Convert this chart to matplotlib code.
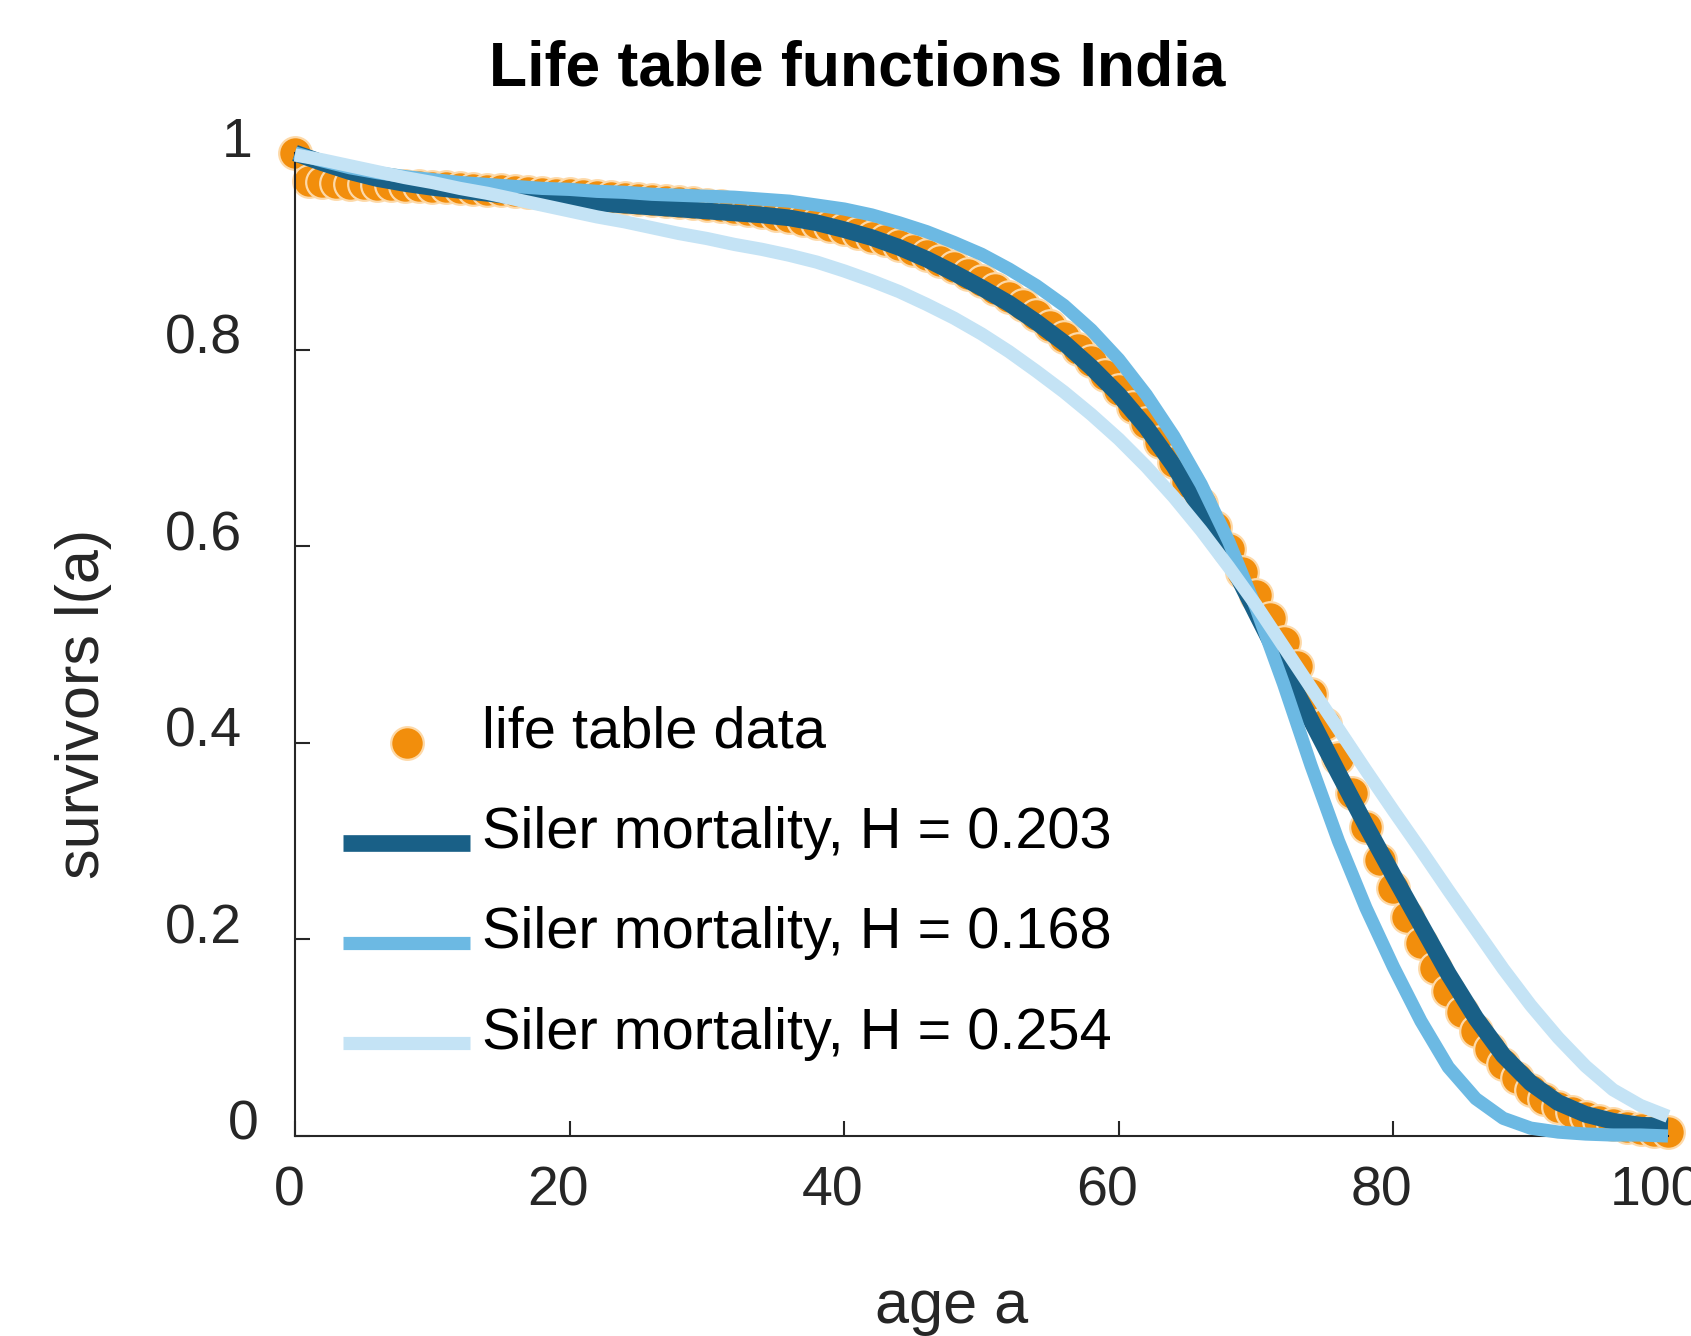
import numpy as np
import matplotlib
matplotlib.use("Agg")
import matplotlib.pyplot as plt
import matplotlib.transforms as mtransforms

plt.rcParams['font.family'] = ['Liberation Sans', 'DejaVu Sans']

# life table data, India (survivors at age a)
ages = list(range(101))
lx_data = [1.000, 0.972, 0.970, 0.969, 0.968, 0.968, 0.967, 0.967, 0.966, 0.966,
           0.965, 0.965, 0.964, 0.963, 0.962, 0.962, 0.961, 0.960, 0.959, 0.958,
           0.958, 0.957, 0.956, 0.955, 0.954, 0.953, 0.952, 0.951, 0.950, 0.949,
           0.947, 0.946, 0.944, 0.942, 0.940, 0.937, 0.935, 0.932, 0.929, 0.926,
           0.923, 0.919, 0.915, 0.911, 0.906, 0.901, 0.896, 0.890, 0.884, 0.877,
           0.870, 0.862, 0.854, 0.845, 0.835, 0.824, 0.813, 0.801, 0.788, 0.774,
           0.759, 0.742, 0.725, 0.706, 0.686, 0.665, 0.643, 0.620, 0.597, 0.574,
           0.550, 0.527, 0.503, 0.478, 0.450, 0.419, 0.385, 0.349, 0.314, 0.281,
           0.252, 0.223, 0.196, 0.171, 0.147, 0.126, 0.107, 0.089, 0.073, 0.059,
           0.047, 0.038, 0.030, 0.024, 0.019, 0.015, 0.012, 0.009, 0.007, 0.005,
           0.004]

# Siler model curves, every 2 years
a_fit = np.arange(0, 101, 2)
siler_203 = [1.000, 0.990, 0.981, 0.974, 0.969, 0.965, 0.962, 0.959, 0.956, 0.953,
             0.951, 0.949, 0.947, 0.945, 0.943, 0.941, 0.939, 0.937, 0.934, 0.929,
             0.922, 0.914, 0.904, 0.892, 0.878, 0.863, 0.847, 0.828, 0.807, 0.782,
             0.754, 0.721, 0.682, 0.637, 0.588, 0.532, 0.477, 0.423, 0.369, 0.316,
             0.265, 0.215, 0.165, 0.120, 0.082, 0.054, 0.034, 0.022, 0.015, 0.011,
             0.010]
siler_168 = [1.000, 0.992, 0.985, 0.980, 0.976, 0.973, 0.970, 0.968, 0.966, 0.964,
             0.963, 0.961, 0.960, 0.958, 0.957, 0.956, 0.955, 0.953, 0.951, 0.947,
             0.943, 0.937, 0.929, 0.920, 0.909, 0.897, 0.882, 0.865, 0.845, 0.820,
             0.790, 0.754, 0.712, 0.663, 0.605, 0.537, 0.460, 0.377, 0.300, 0.232,
             0.172, 0.117, 0.070, 0.038, 0.018, 0.008, 0.004, 0.002, 0.001, 0.001,
             0.000]
siler_254 = [0.998, 0.993, 0.987, 0.981, 0.975, 0.970, 0.964, 0.959, 0.953, 0.947,
             0.941, 0.935, 0.930, 0.924, 0.918, 0.913, 0.907, 0.902, 0.896, 0.889,
             0.880, 0.870, 0.859, 0.846, 0.832, 0.816, 0.798, 0.778, 0.757, 0.734,
             0.709, 0.681, 0.650, 0.616, 0.579, 0.540, 0.498, 0.456, 0.414, 0.372,
             0.331, 0.291, 0.250, 0.210, 0.170, 0.133, 0.100, 0.071, 0.047, 0.031,
             0.020]

yticks = [0, 0.2, 0.4, 0.6, 0.8, 1]
ytick_labels = ['0', '0.2', '0.4', '0.6', '0.8', '1']
xticks = [0, 20, 40, 60, 80, 100]

W, H = 1691, 1336
fig = plt.figure(figsize=(W / 100, H / 100), dpi=100)
ax = fig.add_axes([295 / W, 1 - 1136 / H, 1373 / W, 983 / H])

ax.plot(ages, lx_data, 'o', ms=23.5, mfc='#f28e0c', mec='#fdd9a8', mew=1.6,
        clip_on=False, label='life table data', zorder=2)
ax.plot(a_fit, siler_203, color='#196087', lw=12, solid_capstyle='butt',
        solid_joinstyle='round', clip_on=False,
        label='Siler mortality, H = 0.203', zorder=3)
ax.plot(a_fit, siler_168, color='#6cb9e3', lw=9.5, solid_capstyle='butt',
        solid_joinstyle='round', clip_on=False,
        label='Siler mortality, H = 0.168', zorder=4)
ax.plot(a_fit, siler_254, color='#c4e3f5', lw=9.5, solid_capstyle='butt',
        solid_joinstyle='round', clip_on=False,
        label='Siler mortality, H = 0.254', zorder=5)

ax.set_xlim(0, 100)
ax.set_ylim(0, 1)
ax.set_xticks(xticks)
ax.set_yticks(yticks)
ax.set_yticklabels(ytick_labels)
for s in ['top', 'right']:
    ax.spines[s].set_visible(False)
for s in ['left', 'bottom']:
    ax.spines[s].set_color('#262626')
    ax.spines[s].set_linewidth(1.5)
ax.tick_params(direction='in', length=10.5, width=1.5, color='#262626',
               labelsize=40, labelcolor='#262626')
ax.tick_params(axis='y', pad=38)
ax.tick_params(axis='x', pad=21)

# nudge tick labels the way the original sits them
for lab in ax.get_yticklabels():
    shift = {'0': 0.16, '1': 0.10}.get(lab.get_text(), 0)
    off = mtransforms.ScaledTranslation(shift, 0.16, fig.dpi_scale_trans)
    lab.set_transform(lab.get_transform() + off)
for lab in ax.get_xticklabels():
    shift = -0.055 if lab.get_text() == '0' else -0.12
    off = mtransforms.ScaledTranslation(shift, 0, fig.dpi_scale_trans)
    lab.set_transform(lab.get_transform() + off)

ax.set_xlabel('age a', fontsize=44, color='#262626', va='center')
ax.xaxis.set_label_coords(0.4785, -0.174)
ax.set_ylabel('survivors l(a)', fontsize=44, color='#262626', va='center')
ax.yaxis.set_label_coords(-0.154, 0.4395)

fig.text(857 / W, 1 - 69 / H, 'Life table functions India', fontsize=45,
         fontweight='bold', ha='center', va='center')

leg = ax.legend(loc='upper left', bbox_to_anchor=(343 / W, 1 - 706 / H),
                bbox_transform=fig.transFigure, frameon=False, fontsize=41.6,
                borderpad=0, borderaxespad=0, handlelength=2.2,
                handletextpad=0.2, labelspacing=0.8)
# legend symbols sit a little below their text
drop = mtransforms.ScaledTranslation(0, -0.15, fig.dpi_scale_trans)
for h in leg.legend_handles:
    h.set_transform(h.get_transform() + drop)

fig.savefig('out.png', dpi=100)
